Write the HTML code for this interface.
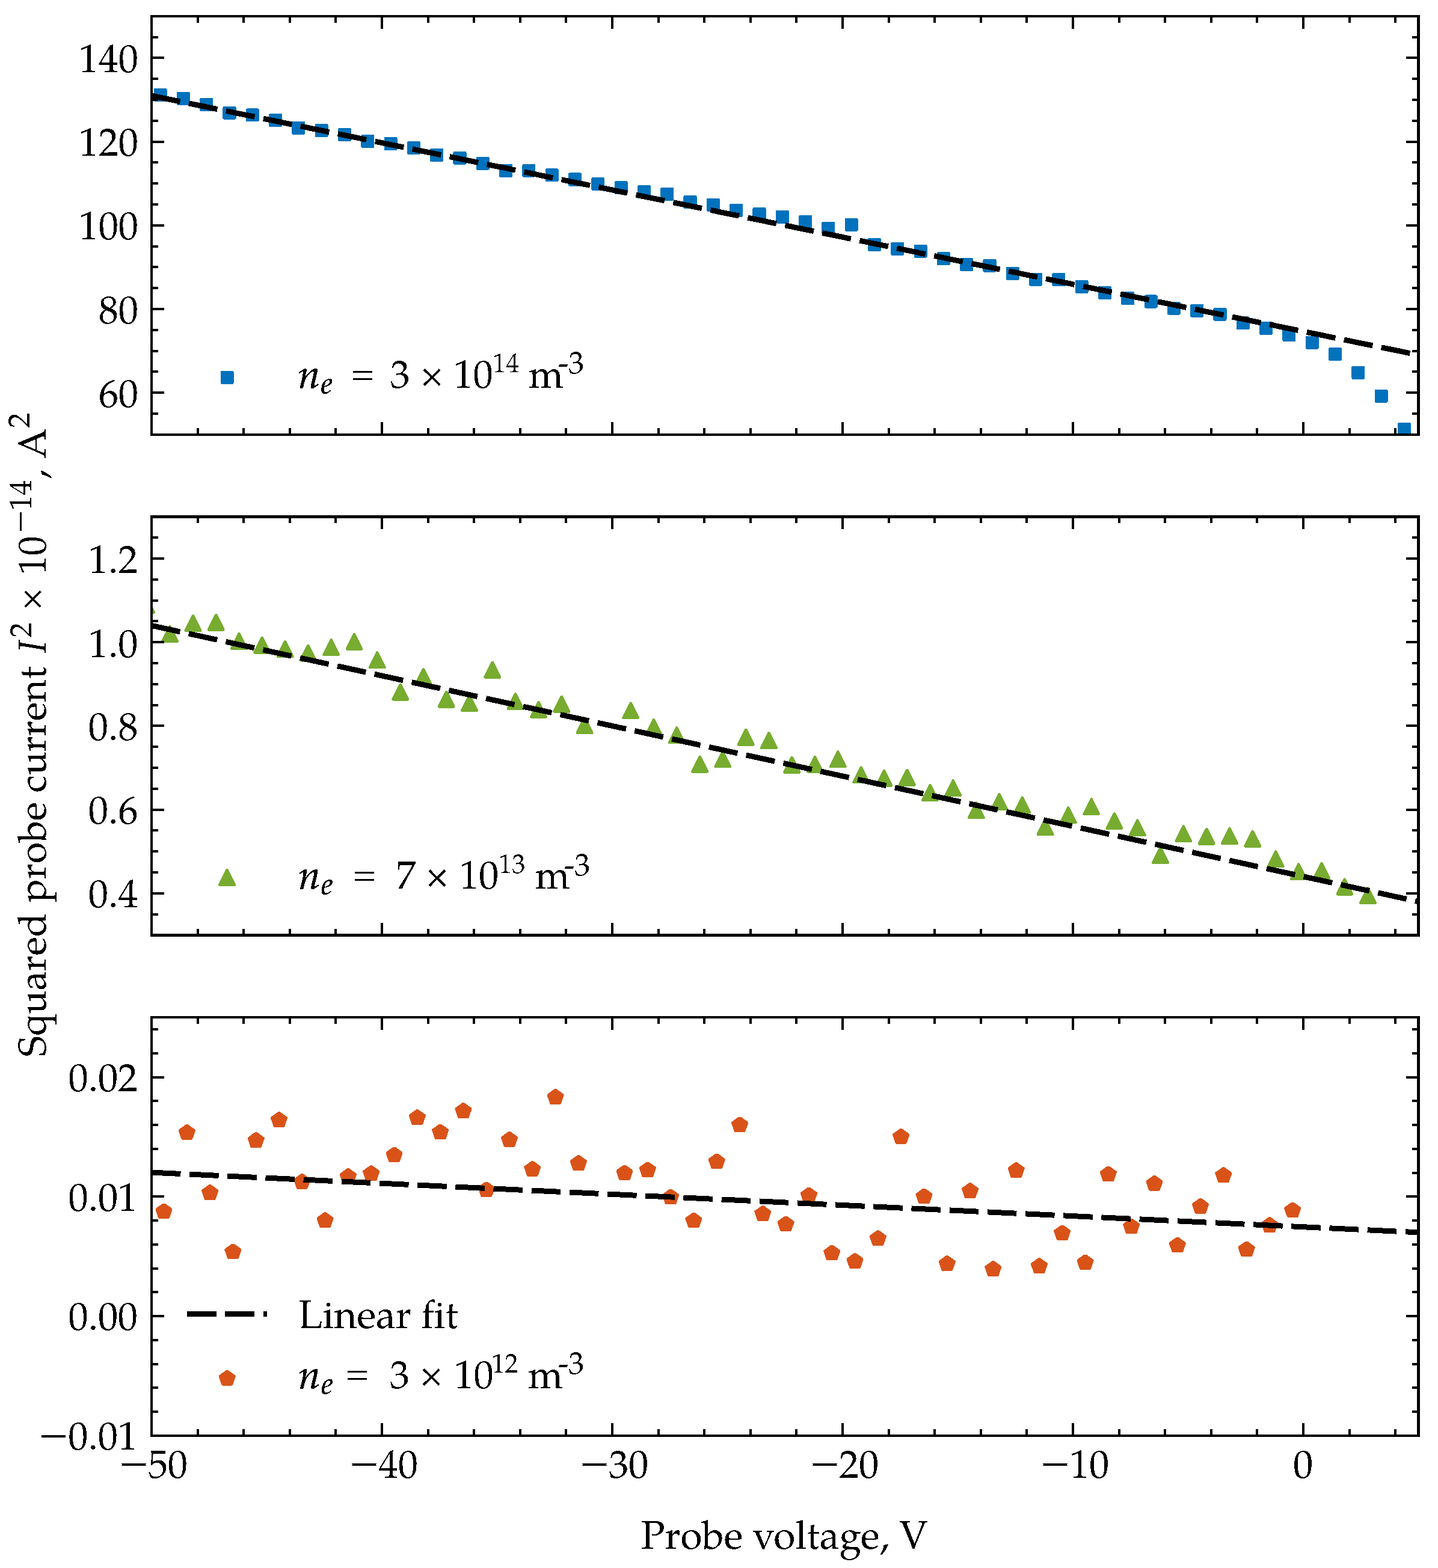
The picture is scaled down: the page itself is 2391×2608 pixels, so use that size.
<!DOCTYPE html>
<html lang="en"><head><meta charset="utf-8"><title>Squared probe current vs probe voltage</title>
<style>html,body{margin:0;padding:0;background:#fff;}svg{display:block;}text{font-family:'TeX Gyre Pagella','Liberation Serif',serif;fill:#000;}</style></head><body>
<svg width="2391" height="2608" viewBox="0 0 2391 2608" shape-rendering="crispEdges">
<rect width="2391" height="2608" fill="#fff"></rect>
<defs>
<filter id="crisp" x="0" y="0" width="2391" height="2608" filterUnits="userSpaceOnUse" color-interpolation-filters="sRGB"><feComponentTransfer><feFuncA type="discrete" tableValues="0 1"></feFuncA></feComponentTransfer></filter>
<clipPath id="c0"><rect x="251.9" y="26.9" width="2106.6" height="695.8"></rect></clipPath>
<clipPath id="c1"><rect x="251.9" y="859.5" width="2106.6" height="695.8"></rect></clipPath>
<clipPath id="c2"><rect x="251.9" y="1692.1" width="2106.6" height="695.8"></rect></clipPath>
</defs>
<g clip-path="url(#c0)">
<g fill="#0072bd" stroke="#0072bd" stroke-width="4.8" stroke-linejoin="round">
<rect x="257.95" y="149.05" width="17.3" height="17.3"></rect>
<rect x="296.25" y="155.15" width="17.3" height="17.3"></rect>
<rect x="334.55" y="165.25" width="17.3" height="17.3"></rect>
<rect x="372.86" y="179.25" width="17.3" height="17.3"></rect>
<rect x="411.16" y="182.75" width="17.3" height="17.3"></rect>
<rect x="449.46" y="191.15" width="17.3" height="17.3"></rect>
<rect x="487.76" y="204.25" width="17.3" height="17.3"></rect>
<rect x="526.06" y="208.35" width="17.3" height="17.3"></rect>
<rect x="564.36" y="215.35" width="17.3" height="17.3"></rect>
<rect x="602.67" y="226.35" width="17.3" height="17.3"></rect>
<rect x="640.97" y="230.35" width="17.3" height="17.3"></rect>
<rect x="679.27" y="237.35" width="17.3" height="17.3"></rect>
<rect x="717.57" y="249.25" width="17.3" height="17.3"></rect>
<rect x="755.87" y="254.25" width="17.3" height="17.3"></rect>
<rect x="794.18" y="263.15" width="17.3" height="17.3"></rect>
<rect x="832.48" y="275.25" width="17.3" height="17.3"></rect>
<rect x="870.78" y="274.95" width="17.3" height="17.3"></rect>
<rect x="909.08" y="282.55" width="17.3" height="17.3"></rect>
<rect x="947.38" y="289.85" width="17.3" height="17.3"></rect>
<rect x="985.68" y="297.45" width="17.3" height="17.3"></rect>
<rect x="1023.99" y="303.45" width="17.3" height="17.3"></rect>
<rect x="1062.29" y="310.55" width="17.3" height="17.3"></rect>
<rect x="1100.59" y="314.35" width="17.3" height="17.3"></rect>
<rect x="1138.89" y="327.35" width="17.3" height="17.3"></rect>
<rect x="1177.19" y="332.25" width="17.3" height="17.3"></rect>
<rect x="1215.5" y="341.15" width="17.3" height="17.3"></rect>
<rect x="1253.8" y="347.15" width="17.3" height="17.3"></rect>
<rect x="1292.1" y="351.95" width="17.3" height="17.3"></rect>
<rect x="1330.4" y="360.05" width="17.3" height="17.3"></rect>
<rect x="1368.7" y="370.95" width="17.3" height="17.3"></rect>
<rect x="1407" y="365.05" width="17.3" height="17.3"></rect>
<rect x="1445.31" y="398.25" width="17.3" height="17.3"></rect>
<rect x="1483.61" y="405.25" width="17.3" height="17.3"></rect>
<rect x="1521.91" y="409.15" width="17.3" height="17.3"></rect>
<rect x="1560.21" y="421.45" width="17.3" height="17.3"></rect>
<rect x="1598.51" y="431.45" width="17.3" height="17.3"></rect>
<rect x="1636.82" y="433.05" width="17.3" height="17.3"></rect>
<rect x="1675.12" y="446.25" width="17.3" height="17.3"></rect>
<rect x="1713.42" y="456.05" width="17.3" height="17.3"></rect>
<rect x="1751.72" y="456.35" width="17.3" height="17.3"></rect>
<rect x="1790.02" y="468.25" width="17.3" height="17.3"></rect>
<rect x="1828.32" y="478.25" width="17.3" height="17.3"></rect>
<rect x="1866.63" y="487.65" width="17.3" height="17.3"></rect>
<rect x="1904.93" y="492.85" width="17.3" height="17.3"></rect>
<rect x="1943.23" y="503.95" width="17.3" height="17.3"></rect>
<rect x="1981.53" y="508.15" width="17.3" height="17.3"></rect>
<rect x="2019.83" y="514.15" width="17.3" height="17.3"></rect>
<rect x="2058.14" y="528.65" width="17.3" height="17.3"></rect>
<rect x="2096.44" y="537.25" width="17.3" height="17.3"></rect>
<rect x="2134.74" y="548.45" width="17.3" height="17.3"></rect>
<rect x="2173.04" y="561.15" width="17.3" height="17.3"></rect>
<rect x="2211.34" y="580.25" width="17.3" height="17.3"></rect>
<rect x="2249.64" y="611.25" width="17.3" height="17.3"></rect>
<rect x="2287.95" y="650.15" width="17.3" height="17.3"></rect>
<rect x="2326.25" y="705.35" width="17.3" height="17.3"></rect>
</g>
<line x1="251.9" y1="159.15" x2="2360.5" y2="590.84" stroke="#000" stroke-width="9" stroke-dasharray="48.6 14.65" fill="none"></line>
</g>
<g clip-path="url(#c1)">
<g fill="#77ac30" stroke="#77ac30" stroke-width="4.8" stroke-linejoin="round">
<path d="M243.5 994.7L255.6 1018.9L231.4 1018.9Z"></path>
<path d="M282.6 1042.6L294.7 1066.8L270.5 1066.8Z"></path>
<path d="M320.9 1024.6L333 1048.8L308.8 1048.8Z"></path>
<path d="M359.21 1023.2L371.31 1047.4L347.11 1047.4Z"></path>
<path d="M397.51 1054.6L409.61 1078.8L385.41 1078.8Z"></path>
<path d="M435.81 1061.1L447.91 1085.3L423.71 1085.3Z"></path>
<path d="M474.11 1067.6L486.21 1091.8L462.01 1091.8Z"></path>
<path d="M512.41 1074L524.51 1098.2L500.31 1098.2Z"></path>
<path d="M550.71 1064.5L562.81 1088.7L538.61 1088.7Z"></path>
<path d="M589.02 1055L601.12 1079.2L576.92 1079.2Z"></path>
<path d="M627.32 1085.7L639.42 1109.9L615.22 1109.9Z"></path>
<path d="M665.62 1138.9L677.72 1163.1L653.52 1163.1Z"></path>
<path d="M703.92 1113.6L716.02 1137.8L691.82 1137.8Z"></path>
<path d="M742.22 1151.1L754.32 1175.3L730.12 1175.3Z"></path>
<path d="M780.53 1157.6L792.63 1181.8L768.43 1181.8Z"></path>
<path d="M818.83 1102.1L830.93 1126.3L806.73 1126.3Z"></path>
<path d="M857.13 1154.6L869.23 1178.8L845.03 1178.8Z"></path>
<path d="M895.43 1168.1L907.53 1192.3L883.33 1192.3Z"></path>
<path d="M933.73 1159.1L945.83 1183.3L921.63 1183.3Z"></path>
<path d="M972.03 1194.7L984.13 1218.9L959.93 1218.9Z"></path>
<path d="M1048.64 1169.8L1060.74 1194L1036.54 1194Z"></path>
<path d="M1086.94 1197.5L1099.04 1221.7L1074.84 1221.7Z"></path>
<path d="M1125.24 1210.8L1137.34 1235L1113.14 1235Z"></path>
<path d="M1163.54 1258.9L1175.64 1283.1L1151.44 1283.1Z"></path>
<path d="M1201.85 1250.6L1213.95 1274.8L1189.75 1274.8Z"></path>
<path d="M1240.15 1214.1L1252.25 1238.3L1228.05 1238.3Z"></path>
<path d="M1278.45 1219.7L1290.55 1243.9L1266.35 1243.9Z"></path>
<path d="M1316.75 1260.3L1328.85 1284.5L1304.65 1284.5Z"></path>
<path d="M1355.05 1259L1367.15 1283.2L1342.95 1283.2Z"></path>
<path d="M1393.35 1250.6L1405.45 1274.8L1381.25 1274.8Z"></path>
<path d="M1431.66 1276.8L1443.76 1301L1419.56 1301Z"></path>
<path d="M1469.96 1282.2L1482.06 1306.4L1457.86 1306.4Z"></path>
<path d="M1508.26 1281.2L1520.36 1305.4L1496.16 1305.4Z"></path>
<path d="M1546.56 1306.3L1558.66 1330.5L1534.46 1330.5Z"></path>
<path d="M1584.86 1298.6L1596.96 1322.8L1572.76 1322.8Z"></path>
<path d="M1623.17 1335.7L1635.27 1359.9L1611.07 1359.9Z"></path>
<path d="M1661.47 1321.6L1673.57 1345.8L1649.37 1345.8Z"></path>
<path d="M1699.77 1327L1711.87 1351.2L1687.67 1351.2Z"></path>
<path d="M1738.07 1363.5L1750.17 1387.7L1725.97 1387.7Z"></path>
<path d="M1776.37 1343.7L1788.47 1367.9L1764.27 1367.9Z"></path>
<path d="M1814.67 1329.7L1826.77 1353.9L1802.57 1353.9Z"></path>
<path d="M1852.98 1353.5L1865.08 1377.7L1840.88 1377.7Z"></path>
<path d="M1891.28 1364.8L1903.38 1389L1879.18 1389Z"></path>
<path d="M1929.58 1410.4L1941.68 1434.6L1917.48 1434.6Z"></path>
<path d="M1967.88 1374.8L1979.98 1399L1955.78 1399Z"></path>
<path d="M2006.18 1379.2L2018.28 1403.4L1994.08 1403.4Z"></path>
<path d="M2044.49 1378.2L2056.59 1402.4L2032.39 1402.4Z"></path>
<path d="M2082.79 1383.2L2094.89 1407.4L2070.69 1407.4Z"></path>
<path d="M2121.09 1416.8L2133.19 1441L2108.99 1441Z"></path>
<path d="M2159.39 1437.7L2171.49 1461.9L2147.29 1461.9Z"></path>
<path d="M2197.69 1436.5L2209.79 1460.7L2185.59 1460.7Z"></path>
<path d="M2235.99 1462.9L2248.09 1487.1L2223.89 1487.1Z"></path>
<path d="M2274.3 1477.3L2286.4 1501.5L2262.2 1501.5Z"></path>
</g>
<line x1="251.9" y1="1040.41" x2="2360.5" y2="1500.06" stroke="#000" stroke-width="9" stroke-dasharray="48.6 14.65" fill="none"></line>
</g>
<g clip-path="url(#c2)">
<g fill="#d95319" stroke="#d95319" stroke-width="4.8" stroke-linejoin="round">
<path d="M271.5 2003.91L273.5 2003.91L284.15 2011.6L279.7 2024.61L265.3 2024.61L260.85 2011.6Z"></path>
<path d="M309.8 1872.71L311.8 1872.71L322.45 1880.4L318 1893.41L303.6 1893.41L299.15 1880.4Z"></path>
<path d="M348.1 1972.81L350.1 1972.81L360.75 1980.5L356.3 1993.51L341.9 1993.51L337.45 1980.5Z"></path>
<path d="M386.41 2071.01L388.41 2071.01L399.06 2078.7L394.61 2091.71L380.21 2091.71L375.76 2078.7Z"></path>
<path d="M424.71 1885.71L426.71 1885.71L437.36 1893.4L432.91 1906.41L418.51 1906.41L414.06 1893.4Z"></path>
<path d="M463.01 1851.81L465.01 1851.81L475.66 1859.5L471.21 1872.51L456.81 1872.51L452.36 1859.5Z"></path>
<path d="M501.31 1954.61L503.31 1954.61L513.96 1962.3L509.51 1975.31L495.11 1975.31L490.66 1962.3Z"></path>
<path d="M539.61 2018.81L541.61 2018.81L552.26 2026.5L547.81 2039.51L533.41 2039.51L528.96 2026.5Z"></path>
<path d="M577.91 1945.71L579.91 1945.71L590.56 1953.4L586.11 1966.41L571.71 1966.41L567.26 1953.4Z"></path>
<path d="M616.22 1940.81L618.22 1940.81L628.87 1948.5L624.42 1961.51L610.02 1961.51L605.57 1948.5Z"></path>
<path d="M654.52 1910.01L656.52 1910.01L667.17 1917.7L662.72 1930.71L648.32 1930.71L643.87 1917.7Z"></path>
<path d="M692.82 1847.81L694.82 1847.81L705.47 1855.5L701.02 1868.51L686.62 1868.51L682.17 1855.5Z"></path>
<path d="M731.12 1872.01L733.12 1872.01L743.77 1879.7L739.32 1892.71L724.92 1892.71L720.47 1879.7Z"></path>
<path d="M769.42 1836.71L771.42 1836.71L782.07 1844.4L777.62 1857.41L763.22 1857.41L758.77 1844.4Z"></path>
<path d="M807.73 1967.91L809.73 1967.91L820.38 1975.6L815.93 1988.61L801.53 1988.61L797.08 1975.6Z"></path>
<path d="M846.03 1884.61L848.03 1884.61L858.68 1892.3L854.23 1905.31L839.83 1905.31L835.38 1892.3Z"></path>
<path d="M884.33 1933.61L886.33 1933.61L896.98 1941.3L892.53 1954.31L878.13 1954.31L873.68 1941.3Z"></path>
<path d="M922.63 1813.71L924.63 1813.71L935.28 1821.4L930.83 1834.41L916.43 1834.41L911.98 1821.4Z"></path>
<path d="M960.93 1923.81L962.93 1923.81L973.58 1931.5L969.13 1944.51L954.73 1944.51L950.28 1931.5Z"></path>
<path d="M1037.54 1940.11L1039.54 1940.11L1050.19 1947.8L1045.74 1960.81L1031.34 1960.81L1026.89 1947.8Z"></path>
<path d="M1075.84 1934.91L1077.84 1934.91L1088.49 1942.6L1084.04 1955.61L1069.64 1955.61L1065.19 1942.6Z"></path>
<path d="M1114.14 1980.11L1116.14 1980.11L1126.79 1987.8L1122.34 2000.81L1107.94 2000.81L1103.49 1987.8Z"></path>
<path d="M1152.44 2019.21L1154.44 2019.21L1165.09 2026.9L1160.64 2039.91L1146.24 2039.91L1141.79 2026.9Z"></path>
<path d="M1190.74 1921.01L1192.74 1921.01L1203.39 1928.7L1198.94 1941.71L1184.54 1941.71L1180.09 1928.7Z"></path>
<path d="M1229.05 1859.91L1231.05 1859.91L1241.7 1867.6L1237.25 1880.61L1222.85 1880.61L1218.4 1867.6Z"></path>
<path d="M1267.35 2007.81L1269.35 2007.81L1280 2015.5L1275.55 2028.51L1261.15 2028.51L1256.7 2015.5Z"></path>
<path d="M1305.65 2025.01L1307.65 2025.01L1318.3 2032.7L1313.85 2045.71L1299.45 2045.71L1295 2032.7Z"></path>
<path d="M1343.95 1977.11L1345.95 1977.11L1356.6 1984.8L1352.15 1997.81L1337.75 1997.81L1333.3 1984.8Z"></path>
<path d="M1382.25 2073.21L1384.25 2073.21L1394.9 2080.9L1390.45 2093.91L1376.05 2093.91L1371.6 2080.9Z"></path>
<path d="M1420.55 2086.71L1422.55 2086.71L1433.2 2094.4L1428.75 2107.41L1414.35 2107.41L1409.9 2094.4Z"></path>
<path d="M1458.86 2048.81L1460.86 2048.81L1471.51 2056.5L1467.06 2069.51L1452.66 2069.51L1448.21 2056.5Z"></path>
<path d="M1497.16 1879.71L1499.16 1879.71L1509.81 1887.4L1505.36 1900.41L1490.96 1900.41L1486.51 1887.4Z"></path>
<path d="M1535.46 1979.01L1537.46 1979.01L1548.11 1986.7L1543.66 1999.71L1529.26 1999.71L1524.81 1986.7Z"></path>
<path d="M1573.76 2090.81L1575.76 2090.81L1586.41 2098.5L1581.96 2111.51L1567.56 2111.51L1563.11 2098.5Z"></path>
<path d="M1612.06 1969.81L1614.06 1969.81L1624.71 1977.5L1620.26 1990.51L1605.86 1990.51L1601.41 1977.5Z"></path>
<path d="M1650.37 2099.71L1652.37 2099.71L1663.02 2107.4L1658.57 2120.41L1644.17 2120.41L1639.72 2107.4Z"></path>
<path d="M1688.67 1935.71L1690.67 1935.71L1701.32 1943.4L1696.87 1956.41L1682.47 1956.41L1678.02 1943.4Z"></path>
<path d="M1726.97 2094.81L1728.97 2094.81L1739.62 2102.5L1735.17 2115.51L1720.77 2115.51L1716.32 2102.5Z"></path>
<path d="M1765.27 2039.91L1767.27 2039.91L1777.92 2047.6L1773.47 2060.61L1759.07 2060.61L1754.62 2047.6Z"></path>
<path d="M1803.57 2088.91L1805.57 2088.91L1816.22 2096.6L1811.77 2109.61L1797.37 2109.61L1792.92 2096.6Z"></path>
<path d="M1841.87 1942.01L1843.87 1942.01L1854.52 1949.7L1850.07 1962.71L1835.67 1962.71L1831.22 1949.7Z"></path>
<path d="M1880.18 2029.11L1882.18 2029.11L1892.83 2036.8L1888.38 2049.81L1873.98 2049.81L1869.53 2036.8Z"></path>
<path d="M1918.48 1957.61L1920.48 1957.61L1931.13 1965.3L1926.68 1978.31L1912.28 1978.31L1907.83 1965.3Z"></path>
<path d="M1956.78 2060.21L1958.78 2060.21L1969.43 2067.9L1964.98 2080.91L1950.58 2080.91L1946.13 2067.9Z"></path>
<path d="M1995.08 1995.51L1997.08 1995.51L2007.73 2003.2L2003.28 2016.21L1988.88 2016.21L1984.43 2003.2Z"></path>
<path d="M2033.38 1943.81L2035.38 1943.81L2046.03 1951.5L2041.58 1964.51L2027.18 1964.51L2022.73 1951.5Z"></path>
<path d="M2071.69 2067.11L2073.69 2067.11L2084.34 2074.8L2079.89 2087.81L2065.49 2087.81L2061.04 2074.8Z"></path>
<path d="M2109.99 2026.81L2111.99 2026.81L2122.64 2034.5L2118.19 2047.51L2103.79 2047.51L2099.34 2034.5Z"></path>
<path d="M2148.29 2001.91L2150.29 2001.91L2160.94 2009.6L2156.49 2022.61L2142.09 2022.61L2137.64 2009.6Z"></path>
</g>
<line x1="251.9" y1="1950.13" x2="2360.5" y2="2049.91" stroke="#000" stroke-width="9" stroke-dasharray="48.6 14.65" fill="none"></line>
</g>
<path d="M251.9 722.7V701.9M251.9 26.9V47.7M634.92 722.7V701.9M634.92 26.9V47.7M1017.94 722.7V701.9M1017.94 26.9V47.7M1400.95 722.7V701.9M1400.95 26.9V47.7M1783.97 722.7V701.9M1783.97 26.9V47.7M2166.99 722.7V701.9M2166.99 26.9V47.7M328.5 722.7V711.9M328.5 26.9V37.7M405.11 722.7V711.9M405.11 26.9V37.7M481.71 722.7V711.9M481.71 26.9V37.7M558.31 722.7V711.9M558.31 26.9V37.7M711.52 722.7V711.9M711.52 26.9V37.7M788.13 722.7V711.9M788.13 26.9V37.7M864.73 722.7V711.9M864.73 26.9V37.7M941.33 722.7V711.9M941.33 26.9V37.7M1094.54 722.7V711.9M1094.54 26.9V37.7M1171.14 722.7V711.9M1171.14 26.9V37.7M1247.75 722.7V711.9M1247.75 26.9V37.7M1324.35 722.7V711.9M1324.35 26.9V37.7M1477.56 722.7V711.9M1477.56 26.9V37.7M1554.16 722.7V711.9M1554.16 26.9V37.7M1630.77 722.7V711.9M1630.77 26.9V37.7M1707.37 722.7V711.9M1707.37 26.9V37.7M1860.58 722.7V711.9M1860.58 26.9V37.7M1937.18 722.7V711.9M1937.18 26.9V37.7M2013.78 722.7V711.9M2013.78 26.9V37.7M2090.39 722.7V711.9M2090.39 26.9V37.7M2243.59 722.7V711.9M2243.59 26.9V37.7M2320.2 722.7V711.9M2320.2 26.9V37.7M251.9 653.12H272.7M2358.5 653.12H2337.7M251.9 513.96H272.7M2358.5 513.96H2337.7M251.9 374.8H272.7M2358.5 374.8H2337.7M251.9 235.64H272.7M2358.5 235.64H2337.7M251.9 96.48H272.7M2358.5 96.48H2337.7M251.9 687.91H262.7M2358.5 687.91H2347.7M251.9 618.33H262.7M2358.5 618.33H2347.7M251.9 583.54H262.7M2358.5 583.54H2347.7M251.9 548.75H262.7M2358.5 548.75H2347.7M251.9 479.17H262.7M2358.5 479.17H2347.7M251.9 444.38H262.7M2358.5 444.38H2347.7M251.9 409.59H262.7M2358.5 409.59H2347.7M251.9 340.01H262.7M2358.5 340.01H2347.7M251.9 305.22H262.7M2358.5 305.22H2347.7M251.9 270.43H262.7M2358.5 270.43H2347.7M251.9 200.85H262.7M2358.5 200.85H2347.7M251.9 166.06H262.7M2358.5 166.06H2347.7M251.9 131.27H262.7M2358.5 131.27H2347.7M251.9 61.69H262.7M2358.5 61.69H2347.7" stroke="#000" stroke-width="4" fill="none"></path>
<rect x="251.9" y="26.9" width="2106.6" height="695.8" fill="none" stroke="#000" stroke-width="4.4" stroke-linejoin="miter"></rect>
<path d="M251.9 1555.3V1534.5M251.9 859.5V880.3M634.92 1555.3V1534.5M634.92 859.5V880.3M1017.94 1555.3V1534.5M1017.94 859.5V880.3M1400.95 1555.3V1534.5M1400.95 859.5V880.3M1783.97 1555.3V1534.5M1783.97 859.5V880.3M2166.99 1555.3V1534.5M2166.99 859.5V880.3M328.5 1555.3V1544.5M328.5 859.5V870.3M405.11 1555.3V1544.5M405.11 859.5V870.3M481.71 1555.3V1544.5M481.71 859.5V870.3M558.31 1555.3V1544.5M558.31 859.5V870.3M711.52 1555.3V1544.5M711.52 859.5V870.3M788.13 1555.3V1544.5M788.13 859.5V870.3M864.73 1555.3V1544.5M864.73 859.5V870.3M941.33 1555.3V1544.5M941.33 859.5V870.3M1094.54 1555.3V1544.5M1094.54 859.5V870.3M1171.14 1555.3V1544.5M1171.14 859.5V870.3M1247.75 1555.3V1544.5M1247.75 859.5V870.3M1324.35 1555.3V1544.5M1324.35 859.5V870.3M1477.56 1555.3V1544.5M1477.56 859.5V870.3M1554.16 1555.3V1544.5M1554.16 859.5V870.3M1630.77 1555.3V1544.5M1630.77 859.5V870.3M1707.37 1555.3V1544.5M1707.37 859.5V870.3M1860.58 1555.3V1544.5M1860.58 859.5V870.3M1937.18 1555.3V1544.5M1937.18 859.5V870.3M2013.78 1555.3V1544.5M2013.78 859.5V870.3M2090.39 1555.3V1544.5M2090.39 859.5V870.3M2243.59 1555.3V1544.5M2243.59 859.5V870.3M2320.2 1555.3V1544.5M2320.2 859.5V870.3M251.9 1485.72H272.7M2358.5 1485.72H2337.7M251.9 1346.56H272.7M2358.5 1346.56H2337.7M251.9 1207.4H272.7M2358.5 1207.4H2337.7M251.9 1068.24H272.7M2358.5 1068.24H2337.7M251.9 929.08H272.7M2358.5 929.08H2337.7M251.9 1520.51H262.7M2358.5 1520.51H2347.7M251.9 1450.93H262.7M2358.5 1450.93H2347.7M251.9 1416.14H262.7M2358.5 1416.14H2347.7M251.9 1381.35H262.7M2358.5 1381.35H2347.7M251.9 1311.77H262.7M2358.5 1311.77H2347.7M251.9 1276.98H262.7M2358.5 1276.98H2347.7M251.9 1242.19H262.7M2358.5 1242.19H2347.7M251.9 1172.61H262.7M2358.5 1172.61H2347.7M251.9 1137.82H262.7M2358.5 1137.82H2347.7M251.9 1103.03H262.7M2358.5 1103.03H2347.7M251.9 1033.45H262.7M2358.5 1033.45H2347.7M251.9 998.66H262.7M2358.5 998.66H2347.7M251.9 963.87H262.7M2358.5 963.87H2347.7M251.9 894.29H262.7M2358.5 894.29H2347.7" stroke="#000" stroke-width="4" fill="none"></path>
<rect x="251.9" y="859.5" width="2106.6" height="695.8" fill="none" stroke="#000" stroke-width="4.4" stroke-linejoin="miter"></rect>
<path d="M251.9 2387.9V2367.1M251.9 1692.1V1712.9M634.92 2387.9V2367.1M634.92 1692.1V1712.9M1017.94 2387.9V2367.1M1017.94 1692.1V1712.9M1400.95 2387.9V2367.1M1400.95 1692.1V1712.9M1783.97 2387.9V2367.1M1783.97 1692.1V1712.9M2166.99 2387.9V2367.1M2166.99 1692.1V1712.9M328.5 2387.9V2377.1M328.5 1692.1V1702.9M405.11 2387.9V2377.1M405.11 1692.1V1702.9M481.71 2387.9V2377.1M481.71 1692.1V1702.9M558.31 2387.9V2377.1M558.31 1692.1V1702.9M711.52 2387.9V2377.1M711.52 1692.1V1702.9M788.13 2387.9V2377.1M788.13 1692.1V1702.9M864.73 2387.9V2377.1M864.73 1692.1V1702.9M941.33 2387.9V2377.1M941.33 1692.1V1702.9M1094.54 2387.9V2377.1M1094.54 1692.1V1702.9M1171.14 2387.9V2377.1M1171.14 1692.1V1702.9M1247.75 2387.9V2377.1M1247.75 1692.1V1702.9M1324.35 2387.9V2377.1M1324.35 1692.1V1702.9M1477.56 2387.9V2377.1M1477.56 1692.1V1702.9M1554.16 2387.9V2377.1M1554.16 1692.1V1702.9M1630.77 2387.9V2377.1M1630.77 1692.1V1702.9M1707.37 2387.9V2377.1M1707.37 1692.1V1702.9M1860.58 2387.9V2377.1M1860.58 1692.1V1702.9M1937.18 2387.9V2377.1M1937.18 1692.1V1702.9M2013.78 2387.9V2377.1M2013.78 1692.1V1702.9M2090.39 2387.9V2377.1M2090.39 1692.1V1702.9M2243.59 2387.9V2377.1M2243.59 1692.1V1702.9M2320.2 2387.9V2377.1M2320.2 1692.1V1702.9M251.9 2387.9H272.7M2358.5 2387.9H2337.7M251.9 2189.1H272.7M2358.5 2189.1H2337.7M251.9 1990.3H272.7M2358.5 1990.3H2337.7M251.9 1791.5H272.7M2358.5 1791.5H2337.7M251.9 2348.14H262.7M2358.5 2348.14H2347.7M251.9 2308.38H262.7M2358.5 2308.38H2347.7M251.9 2268.62H262.7M2358.5 2268.62H2347.7M251.9 2228.86H262.7M2358.5 2228.86H2347.7M251.9 2149.34H262.7M2358.5 2149.34H2347.7M251.9 2109.58H262.7M2358.5 2109.58H2347.7M251.9 2069.82H262.7M2358.5 2069.82H2347.7M251.9 2030.06H262.7M2358.5 2030.06H2347.7M251.9 1950.54H262.7M2358.5 1950.54H2347.7M251.9 1910.78H262.7M2358.5 1910.78H2347.7M251.9 1871.02H262.7M2358.5 1871.02H2347.7M251.9 1831.26H262.7M2358.5 1831.26H2347.7M251.9 1751.74H262.7M2358.5 1751.74H2347.7M251.9 1711.98H262.7M2358.5 1711.98H2347.7" stroke="#000" stroke-width="4" fill="none"></path>
<rect x="251.9" y="1692.1" width="2106.6" height="695.8" fill="none" stroke="#000" stroke-width="4.4" stroke-linejoin="miter"></rect>
<g filter="url(#crisp)">
<text x="229.8" y="676.82" font-size="65.8" text-anchor="end" textLength="65.80" lengthAdjust="spacingAndGlyphs">60</text>
<text x="229.8" y="537.86" font-size="65.8" text-anchor="end" textLength="65.80" lengthAdjust="spacingAndGlyphs">80</text>
<text x="229.8" y="398.4" font-size="65.8" text-anchor="end" textLength="98.70" lengthAdjust="spacingAndGlyphs">100</text>
<text x="229.8" y="258.84" font-size="65.8" text-anchor="end" textLength="98.70" lengthAdjust="spacingAndGlyphs">120</text>
<text x="229.8" y="119.88" font-size="65.8" text-anchor="end" textLength="98.70" lengthAdjust="spacingAndGlyphs">140</text>
<text x="229.3" y="1509.12" font-size="65.8" text-anchor="end" textLength="82.25" lengthAdjust="spacingAndGlyphs">0.4</text>
<text x="229.3" y="1370.26" font-size="65.8" text-anchor="end" textLength="82.25" lengthAdjust="spacingAndGlyphs">0.6</text>
<text x="229.3" y="1230.8" font-size="65.8" text-anchor="end" textLength="82.25" lengthAdjust="spacingAndGlyphs">0.8</text>
<text x="229.3" y="1092.84" font-size="65.8" text-anchor="end" textLength="82.25" lengthAdjust="spacingAndGlyphs">1.0</text>
<text x="229.3" y="953.08" font-size="65.8" text-anchor="end" textLength="82.25" lengthAdjust="spacingAndGlyphs">1.2</text>
<text x="229" y="2212" font-size="65.8" text-anchor="end" textLength="115.16" lengthAdjust="spacingAndGlyphs">0.00</text>
<text x="229" y="2013.5" font-size="65.8" text-anchor="end" textLength="115.16" lengthAdjust="spacingAndGlyphs">0.01</text>
<text x="229" y="1815" font-size="65.8" text-anchor="end" textLength="115.16" lengthAdjust="spacingAndGlyphs">0.02</text>
<text y="2410.5" font-size="65.8"><tspan x="64" dy="-5.2" stroke="#000" stroke-width="0.5" textLength="50.02" lengthAdjust="spacingAndGlyphs">−</tspan><tspan x="113.6" dy="5.2" textLength="115.16" lengthAdjust="spacingAndGlyphs">0.01</tspan></text>
<text y="2458" font-size="65.8"><tspan x="197.5" dy="-5.7" stroke="#000" stroke-width="0.6" textLength="50.02" lengthAdjust="spacingAndGlyphs">−</tspan><tspan x="246.2" dy="5.7" textLength="65.80" lengthAdjust="spacingAndGlyphs">50</tspan></text>
<text y="2458" font-size="65.8"><tspan x="580.52" dy="-5.7" stroke="#000" stroke-width="0.6" textLength="50.02" lengthAdjust="spacingAndGlyphs">−</tspan><tspan x="629.22" dy="5.7" textLength="65.80" lengthAdjust="spacingAndGlyphs">40</tspan></text>
<text y="2458" font-size="65.8"><tspan x="963.54" dy="-5.7" stroke="#000" stroke-width="0.6" textLength="50.02" lengthAdjust="spacingAndGlyphs">−</tspan><tspan x="1012.24" dy="5.7" textLength="65.80" lengthAdjust="spacingAndGlyphs">30</tspan></text>
<text y="2458" font-size="65.8"><tspan x="1346.55" dy="-5.7" stroke="#000" stroke-width="0.6" textLength="50.02" lengthAdjust="spacingAndGlyphs">−</tspan><tspan x="1395.25" dy="5.7" textLength="65.80" lengthAdjust="spacingAndGlyphs">20</tspan></text>
<text y="2458" font-size="65.8"><tspan x="1729.57" dy="-5.7" stroke="#000" stroke-width="0.6" textLength="50.02" lengthAdjust="spacingAndGlyphs">−</tspan><tspan x="1778.27" dy="5.7" textLength="65.80" lengthAdjust="spacingAndGlyphs">10</tspan></text>
<text x="2150.19" y="2458" font-size="65.8" textLength="32.91" lengthAdjust="spacingAndGlyphs">0</text>
<text x="1065.7" y="2575.8" font-size="65.8" textLength="477.17" lengthAdjust="spacingAndGlyphs">Probe voltage, V</text>
<text transform="rotate(-90)" y="76" font-size="65"><tspan x="-1757.2" textLength="238.75" lengthAdjust="spacingAndGlyphs">Squared</tspan><tspan x="-1501.1" textLength="167.31" lengthAdjust="spacingAndGlyphs">probe</tspan><tspan x="-1318.2" textLength="209.56" lengthAdjust="spacingAndGlyphs">current</tspan><tspan x="-1086.4" font-style="italic" textLength="21.66" lengthAdjust="spacingAndGlyphs">I</tspan><tspan x="-1060.6" y="52.1" font-size="51.2" textLength="25.61" lengthAdjust="spacingAndGlyphs">2</tspan><tspan x="-1015.6" y="70.42" font-size="61" textLength="38.25" lengthAdjust="spacingAndGlyphs">×</tspan><tspan x="-956.5" y="76" textLength="65.02" lengthAdjust="spacingAndGlyphs">10</tspan><tspan x="-887" y="47.4" font-size="51.2" stroke="#000" stroke-width="0.3" textLength="38.91" lengthAdjust="spacingAndGlyphs">−</tspan><tspan x="-849.3" y="51.9" font-size="51.2" textLength="51.20" lengthAdjust="spacingAndGlyphs">14</tspan><tspan x="-796.7" y="76" textLength="16.27" lengthAdjust="spacingAndGlyphs">,</tspan><tspan x="-762.9" y="76" textLength="50.58" lengthAdjust="spacingAndGlyphs">A</tspan><tspan x="-711.8" y="49.1" font-size="51.2" textLength="25.61" lengthAdjust="spacingAndGlyphs">2</tspan></text>
<g fill="#0072bd" stroke="#0072bd" stroke-width="4.8" stroke-linejoin="round"><rect x="368.95" y="619.25" width="17.3" height="17.3"></rect></g>
<text font-size="65.8"><tspan x="495.7" y="645.1" font-style="italic" stroke="#000" stroke-width="0.7" textLength="36.59" lengthAdjust="spacingAndGlyphs">n</tspan><tspan x="533.7" y="654.1" font-size="49" font-style="italic" stroke="#000" stroke-width="0.5" textLength="19.06" lengthAdjust="spacingAndGlyphs">e</tspan><tspan x="582.8" y="637.9" font-size="53.3" textLength="40.52" lengthAdjust="spacingAndGlyphs">=</tspan><tspan x="648.7" y="645.1" textLength="32.91" lengthAdjust="spacingAndGlyphs">3</tspan><tspan x="698.69" y="642.67" font-size="62" textLength="38.88" lengthAdjust="spacingAndGlyphs">×</tspan><tspan x="753.9" y="645.1" textLength="65.80" lengthAdjust="spacingAndGlyphs">10</tspan><tspan x="819.1" y="619.2" font-size="44.3" textLength="44.31" lengthAdjust="spacingAndGlyphs">14</tspan><tspan x="878.9" y="645.1" textLength="58.11" lengthAdjust="spacingAndGlyphs">m</tspan><tspan x="928" y="621.3" font-size="51.8" textLength="43.16" lengthAdjust="spacingAndGlyphs">-3</tspan></text>
<g fill="#77ac30" stroke="#77ac30" stroke-width="4.8" stroke-linejoin="round"><path d="M377.5 1447.5L389.6 1471.7L365.4 1471.7Z"></path></g>
<text font-size="65.8"><tspan x="496.3" y="1478.3" font-style="italic" stroke="#000" stroke-width="0.7" textLength="36.59" lengthAdjust="spacingAndGlyphs">n</tspan><tspan x="534.2" y="1487.3" font-size="49" font-style="italic" stroke="#000" stroke-width="0.5" textLength="19.06" lengthAdjust="spacingAndGlyphs">e</tspan><tspan x="585.7" y="1471.1" font-size="53.3" textLength="40.52" lengthAdjust="spacingAndGlyphs">=</tspan><tspan x="658.8" y="1478.3" textLength="32.91" lengthAdjust="spacingAndGlyphs">7</tspan><tspan x="707.59" y="1475.87" font-size="62" textLength="38.88" lengthAdjust="spacingAndGlyphs">×</tspan><tspan x="763.4" y="1478.3" textLength="65.80" lengthAdjust="spacingAndGlyphs">10</tspan><tspan x="829" y="1452" font-size="44.3" textLength="44.31" lengthAdjust="spacingAndGlyphs">13</tspan><tspan x="889.5" y="1478.3" textLength="58.11" lengthAdjust="spacingAndGlyphs">m</tspan><tspan x="937.9" y="1455.6" font-size="51.8" textLength="43.16" lengthAdjust="spacingAndGlyphs">-3</tspan></text>
<line x1="311" y1="2185.45" x2="444" y2="2185.45" stroke="#000" stroke-width="9" stroke-dasharray="48.6 14.65"></line>
<text x="496.2" y="2209" font-size="65.8" textLength="265.50" lengthAdjust="spacingAndGlyphs">Linear fit</text>
<g fill="#d95319" stroke="#d95319" stroke-width="4.8" stroke-linejoin="round"><path d="M376.7 2281.51L378.7 2281.51L389.35 2289.2L384.9 2302.21L370.5 2302.21L366.05 2289.2Z"></path></g>
<text font-size="65.8"><tspan x="496.3" y="2308.5" font-style="italic" stroke="#000" stroke-width="0.7" textLength="36.59" lengthAdjust="spacingAndGlyphs">n</tspan><tspan x="534.5" y="2317.5" font-size="49" font-style="italic" stroke="#000" stroke-width="0.5" textLength="19.06" lengthAdjust="spacingAndGlyphs">e</tspan><tspan x="573.9" y="2301.3" font-size="53.3" textLength="40.52" lengthAdjust="spacingAndGlyphs">=</tspan><tspan x="648.1" y="2308.5" textLength="32.91" lengthAdjust="spacingAndGlyphs">3</tspan><tspan x="697.79" y="2306.07" font-size="62" textLength="38.88" lengthAdjust="spacingAndGlyphs">×</tspan><tspan x="754.9" y="2308.5" textLength="65.80" lengthAdjust="spacingAndGlyphs">10</tspan><tspan x="817.3" y="2282.5" font-size="44.3" textLength="44.31" lengthAdjust="spacingAndGlyphs">12</tspan><tspan x="878" y="2308.5" textLength="58.11" lengthAdjust="spacingAndGlyphs">m</tspan><tspan x="928" y="2285.3" font-size="51.8" textLength="43.16" lengthAdjust="spacingAndGlyphs">-3</tspan></text>
</g>
</svg></body></html>
